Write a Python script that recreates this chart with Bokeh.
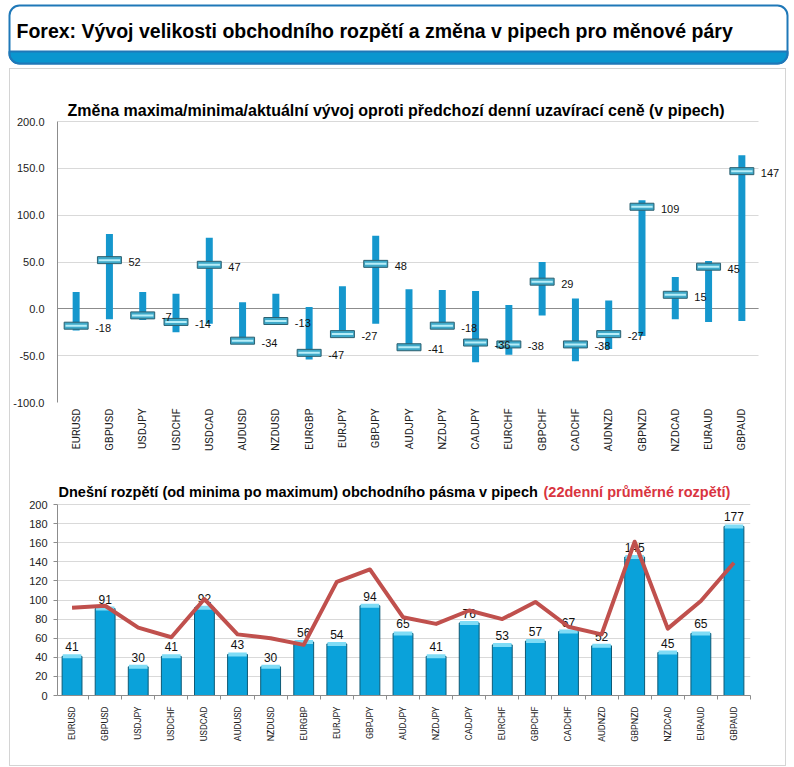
import math
from bokeh.plotting import figure
from bokeh.models import (Range1d, FixedTicker, NumeralTickFormatter, Label, BoxAnnotation,
                          LinearAxis, Grid, Spacer)
from bokeh.layouts import column, row
from bokeh.core.properties import value
from bokeh.embed import file_html
from bokeh.resources import INLINE

# ---------------- data ----------------
pairs = ["EURUSD", "GBPUSD", "USDJPY", "USDCHF", "USDCAD", "AUDUSD", "NZDUSD", "EURGBP", "EURJPY",
         "GBPJPY", "AUDJPY", "NZDJPY", "CADJPY", "EURCHF", "GBPCHF", "CADCHF", "AUDNZD", "GBPNZD",
         "NZDCAD", "EURAUD", "GBPAUD"]
current_change = [-18, 52, -7, -14, 47, -34, -13, -47, -27, 48, -41, -18, -36, -38, 29, -38, -27,
                  109, 15, 45, 147]
day_high = [18, 80, 18, 16, 76, 7, 16, 2, 24, 78, 21, 20, 19, 4, 50, 11, 9, 116, 34, 51, 164]
day_low = [-23, -11, -12, -25, -16, -36, -14, -54, -30, -16, -44, -21, -57, -49, -7, -56, -43,
           -29, -11, -14, -13]
today_range = [41, 91, 30, 41, 92, 43, 30, 56, 54, 94, 65, 41, 76, 53, 57, 67, 52, 145, 45, 65, 177]
avg_range_22d = [92, 94, 71, 61, 101, 64, 60, 53, 119, 132, 82, 75, 89, 80, 98, 72, 64, 161, 70,
                 99, 139]
top_ticks = [-100, -50, 0, 50, 100, 150, 200]
bottom_ticks = [0, 20, 40, 60, 80, 100, 120, 140, 160, 180, 200]

TITLE = "Forex: Vývoj velikosti obchodního rozpětí a změna v pipech pro měnové páry"
TOP_TITLE = "Změna maxima/minima/aktuální vývoj oproti předchozí denní uzavírací ceně (v pipech)"
BOTTOM_TITLE = "Dnešní rozpětí (od minima po maximum) obchodního pásma v pipech"
BOTTOM_TITLE_RED = "(22denní průměrné rozpětí)"

FONT = "Liberation Sans"
NARROW = "Roboto"

n = len(pairs)
xs = [i + 0.5 for i in range(n)]
edges = list(range(n + 1))
name_map = {x: nm for x, nm in zip(xs, pairs)}

HAS_CROSS = "cross_bounds" in Grid.properties()

# layout constants (page pixels)
FIG_X = 10               # figures start here (spacer 9 + border 1)
FRAME_L = 56             # common frame left (column aligns frames)
FIG_W = 774

# ---------------- header (page y 0..68) ----------------
HW, HH = 790, 68
head = figure(width=HW, height=HH, x_range=Range1d(0, HW), y_range=Range1d(0, HH),
              x_axis_type=None, y_axis_type=None, toolbar_location=None, output_backend="svg",
              min_border=0, outline_line_color=None)
head.add_layout(BoxAnnotation(left=9, right=787, bottom=HH - 63, top=HH - 5, fill_color="white",
                              fill_alpha=1, line_color="#1f78b8", line_alpha=1, line_width=2,
                              border_radius=10))
head.add_layout(BoxAnnotation(left=9, right=787, bottom=HH - 63, top=HH - 51, fill_color="#0a96cf",
                              fill_alpha=1, line_color="#1f78b8", line_alpha=1, line_width=2,
                              border_radius=(0, 0, 10, 10)))
head.add_layout(Label(x=16, y=HH - 30, text=TITLE, text_font=FONT, text_font_style="bold",
                      text_font_size="19.5px", text_baseline="middle", text_color="black"))

# ---------------- top chart (slots start at page x 58, frame right 782, y 98..402) ----------------
PX_T = 699 / 21          # pixels per category slot
UPP_T = 300 / 281        # data units per pixel (vertical)
T0 = 58
tw = 782 - FRAME_L
top = figure(x_range=Range1d((FRAME_L - T0) / PX_T, (782 - T0) / PX_T),
             y_range=Range1d(-100, -100 + 304 * UPP_T),
             frame_width=tw, frame_height=304, min_border_left=FRAME_L - FIG_X,
             min_border_right=FIG_W - (FRAME_L - FIG_X) - tw,
             min_border_top=29, min_border_bottom=68, toolbar_location=None,
             output_backend="svg", outline_line_color=None, background_fill_color="white")

yax = top.yaxis[0]
yax.ticker = FixedTicker(ticks=top_ticks)
yax.formatter = NumeralTickFormatter(format="0.0")
yax.bounds = (-100, 200)
yax.axis_line_color = "#8c8c8c"
yax.major_tick_line_color = None
yax.minor_tick_line_color = None
yax.major_label_standoff = 7
yax.major_label_text_font = FONT
yax.major_label_text_font_size = "11px"
yax.major_label_text_color = "#222222"

xax = top.xaxis[0]
xax.ticker = FixedTicker(ticks=xs)
xax.major_label_overrides = name_map
xax.major_label_orientation = math.pi / 2
xax.axis_line_color = None
xax.major_tick_line_color = None
xax.minor_tick_line_color = None
xax.major_tick_out = 0
xax.major_label_standoff = 6
xax.major_label_text_font = NARROW
xax.major_label_text_font_size = "11px"
xax.major_label_text_color = "#222222"

top.xgrid.visible = False
top.ygrid.visible = False
x_start_t = (FRAME_L - T0) / PX_T
if HAS_CROSS:
    top.add_layout(Grid(dimension=1, ticker=FixedTicker(ticks=top_ticks),
                        cross_bounds=(x_start_t, n), grid_line_color="#d9d9d9"))
    top.add_layout(Grid(dimension=1, ticker=FixedTicker(ticks=[0]), cross_bounds=(x_start_t, n),
                        grid_line_color="#8c8c8c"))
else:
    top.segment(x0=x_start_t, x1=n, y0=top_ticks, y1=top_ticks, line_color="#d9d9d9", line_width=1)
    top.segment(x0=x_start_t, x1=n, y0=[0], y1=[0], line_color="#8c8c8c", line_width=1)

top.vbar(x=xs, bottom=day_low, top=day_high, width=0.21, fill_color="#1597cd", line_color=None)
top.rect(x=xs, y=current_change, width=0.72, height=7, height_units="screen",
         fill_color="#3fa9c9", line_color="#2c6070", line_width=1)
top.rect(x=xs, y=current_change, width=0.64, height=2, height_units="screen",
         fill_color="#b8eef8", line_color=None)
top.text(x=xs, y=current_change, text=[str(v) for v in current_change], x_offset=19, y_offset=2,
         text_align="left", text_baseline="middle", text_font=value(FONT),
         text_font_size="11px", text_color="#111111")
top.add_layout(Label(x=(66 - T0) / PX_T, y=-100 + (402 - 110) * UPP_T, text=TOP_TITLE,
                     text_font=FONT, text_font_style="bold", text_font_size="16px",
                     text_baseline="middle", text_color="black"))

# ---------------- bottom chart (slots start at page x 54, right 749, y 480..695) ----------------
PX_B = 695 / 21
UPP_B = 200 / 191
B0 = 54
bw = 749 - FRAME_L
bot = figure(x_range=Range1d((FRAME_L - B0) / PX_B, n), y_range=Range1d(0, 215 * UPP_B),
             frame_width=bw, frame_height=215, min_border_left=FRAME_L - FIG_X,
             min_border_right=FIG_W - (FRAME_L - FIG_X) - bw,
             min_border_top=10, min_border_bottom=70, toolbar_location=None,
             output_backend="svg", outline_line_color=None, x_axis_location=None)

byax = bot.yaxis[0]
byax.ticker = FixedTicker(ticks=bottom_ticks)
byax.bounds = (0, 200)
byax.axis_line_color = "#8c8c8c"
byax.major_tick_line_color = "#8c8c8c"
byax.major_tick_out = 4
byax.major_tick_in = 0
byax.minor_tick_line_color = None
byax.major_label_standoff = 6
byax.major_label_text_font = FONT
byax.major_label_text_font_size = "11px"
byax.major_label_text_color = "#222222"

name_ax = LinearAxis(ticker=FixedTicker(ticks=xs, minor_ticks=edges),
                     major_label_overrides=name_map,
                     axis_line_color="#8c8c8c", major_tick_line_color=None, major_tick_out=0,
                     major_tick_in=0, minor_tick_line_color="#8c8c8c", minor_tick_out=4,
                     minor_tick_in=0, major_label_orientation=math.pi / 2,
                     major_label_standoff=7, major_label_text_font=NARROW,
                     major_label_text_font_size="9px", major_label_text_color="#222222")
bot.add_layout(name_ax, "below")

bot.xgrid.visible = False
bot.ygrid.visible = False
bot.add_layout(Grid(dimension=1, ticker=FixedTicker(ticks=bottom_ticks[1:]),
                    grid_line_color="#d9d9d9"))

bot.vbar(x=xs, top=today_range, width=0.6, fill_color="#0aa2da", line_color="#0d5a76", line_width=1)
bot.rect(x=xs, y=today_range, width=0.56, height=4, height_units="screen",
         fill_color="#7fdcf6", line_color=None)
bot.text(x=xs, y=today_range, text=[str(v) for v in today_range], y_offset=-5,
         text_align="center", text_baseline="bottom", text_font=value(FONT),
         text_font_size="12px", text_color="#111111")
bot.line(x=xs, y=avg_range_22d, line_color="#c0504d", line_width=4, line_join="round")

bot.add_layout(Label(x=(57 - B0) / PX_B, y=(695 - 491) * UPP_B, text=BOTTOM_TITLE, text_font=FONT,
                     text_font_style="bold", text_font_size="14.5px", text_baseline="middle",
                     text_color="black"))
bot.add_layout(Label(x=(542 - B0) / PX_B, y=(695 - 491) * UPP_B, text=BOTTOM_TITLE_RED,
                     text_font=FONT, text_font_style="bold", text_font_size="14.5px",
                     text_baseline="middle", text_color="#d9343f"))

panel = column(top, bot, spacing=0, styles={"border": "1px solid #d4d4d4"})
page = column(head, row(Spacer(width=9, height=10), panel, spacing=0), spacing=0)

open("out.html", "w").write(file_html(page, INLINE, title="Forex"))
